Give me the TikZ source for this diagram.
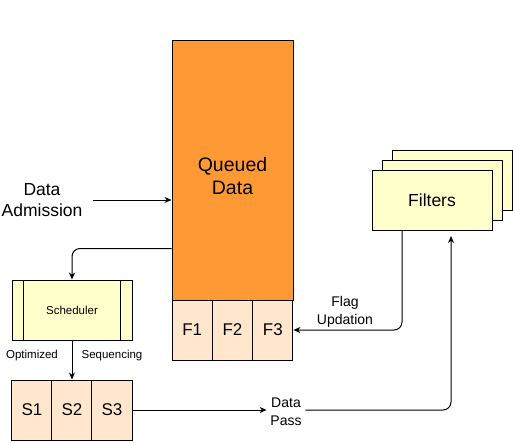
\documentclass[tikz,border=0pt]{standalone}
\usepackage{fontspec}
\setmainfont{Liberation Sans}
\usetikzlibrary{arrows.meta}
\definecolor{qorange}{HTML}{FF9933}
\definecolor{peach}{HTML}{FFE6CC}
\definecolor{cream}{HTML}{FFFFCC}
\begin{document}
\begin{tikzpicture}[x=1pt,y=-1pt,line width=1pt,>={Stealth[length=7pt,width=6pt]},
        cell/.style={anchor=center,draw,fill=peach,minimum width=40.33,minimum height=60,inner sep=0pt,font=\fontsize{17}{20}\selectfont},
        filtbox/.style={anchor=center,draw,fill=cream,minimum width=120,minimum height=60},
        lbl/.style={anchor=center,align=center}]
        \useasboundingbox (0,0) rectangle (513,442);
        %% NOTE: y runs downwards, so positions read like pixels
        \node[anchor=center,draw,fill=qorange,minimum width=121,minimum height=260,
            label={[lbl,yshift=-6,font=\fontsize{19.5}{23.5}\selectfont]center:Queued\\Data}] (queue) at (232.5,170) {};
        \foreach \i/\x in {1/192.2,2/232.5,3/272.8}
            \node[cell] (f\i) at (\x,330) {F\i};
        \node[anchor=center,draw,fill=cream,minimum width=120,minimum height=60,font=\fontsize{11.5}{14}\selectfont] (sched) at (72,310) {Scheduler};
        \draw ([xshift=12]sched.north west) -- ([xshift=12]sched.south west);
        \draw ([xshift=-12]sched.north east) -- ([xshift=-12]sched.south east);
        \foreach \i/\x in {1/32,2/72,3/112}
            \node[cell] (s\i) at (\x,410) {S\i};
        \node[filtbox] (filtC) at (452,180) {};
        \node[filtbox] (filtB) at (442,190) {};
        \node[filtbox,font=\fontsize{17.5}{22}\selectfont] (filt) at (432,200) {Filters};
        \node[lbl,font=\fontsize{17.5}{21}\selectfont] (adm) at (42,200) {Data\\Admission};
        \node[lbl,font=\fontsize{11.5}{14}\selectfont] (opt) at (32,356) {Optimized};
        \node[lbl,font=\fontsize{11.5}{14}\selectfont] (seq) at (112,356) {Sequencing};
        \node[lbl,font=\fontsize{14}{18}\selectfont] (pass) at (286,412) {Data\\Pass};
        \node[lbl,font=\fontsize{14}{18}\selectfont] (flag) at (345,312) {Flag\\Updation};
        \coordinate (passend) at (451,236);
        \draw[->] ([xshift=7]adm.east) -- (adm.east -| queue.west);
        \draw[->,rounded corners=8] ([yshift=52]queue.south west) -| (sched.north);
        \draw[->] (sched.south) -- (s2.north);
        \draw[->] (s3.east) -- (s3.east -| pass.west);
        \draw[->,rounded corners=8] (pass.east |- s3.east) -| (passend);
        \draw[->,rounded corners=8] ([xshift=-30]filt.south) |- (f3.east);
    \end{tikzpicture}
\end{document}
